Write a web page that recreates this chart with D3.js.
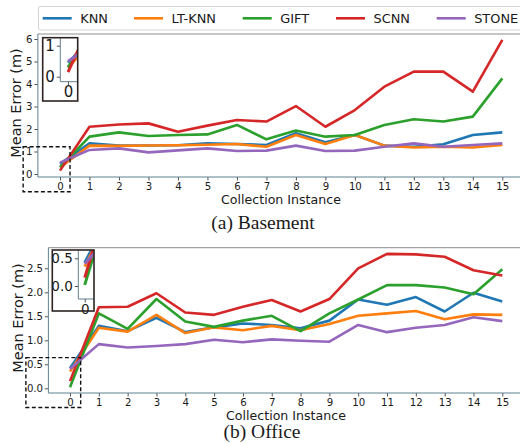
<!DOCTYPE html>
<html>
<head>
<meta charset="utf-8">
<script src="https://cdn.jsdelivr.net/npm/d3@7"></script>
<style>
body { margin: 0; background: #fff; }
text { font-family: "DejaVu Sans", sans-serif; fill: #1a1a1a; }
</style>
</head>
<body>
<script>
// collection instances on the x axis
var instances = [0, 1, 2, 3, 4, 5, 6, 7, 8, 9, 10, 11, 12, 13, 14, 15];
var methods = ["KNN", "LT-KNN", "GIFT", "SCNN", "STONE"];
var colors = ["#1f77b4", "#ff7f0e", "#2ca02c", "#d62728", "#9467bd"];

// (a) Basement, mean error in metres
var basementKNN   = [0.45, 1.36, 1.26, 1.27, 1.28, 1.36, 1.33, 1.29, 1.81, 1.41, 1.73, 1.26, 1.21, 1.32, 1.73, 1.85];
var basementLTKNN = [0.30, 1.26, 1.25, 1.27, 1.28, 1.30, 1.33, 1.21, 1.73, 1.33, 1.73, 1.26, 1.18, 1.21, 1.18, 1.29];
var basementGIFT  = [0.30, 1.66, 1.85, 1.69, 1.73, 1.76, 2.18, 1.54, 1.93, 1.66, 1.73, 2.18, 2.43, 2.33, 2.55, 4.25];
var basementSCNN  = [0.15, 2.10, 2.20, 2.25, 1.88, 2.15, 2.40, 2.33, 3.02, 2.10, 2.84, 3.88, 4.55, 4.55, 3.66, 5.96];
var basementSTONE = [0.50, 1.07, 1.14, 0.96, 1.05, 1.14, 1.02, 1.04, 1.26, 1.02, 1.04, 1.21, 1.36, 1.21, 1.29, 1.36];

// (b) Office, mean error in metres
var officeKNN   = [0.42, 1.30, 1.19, 1.47, 1.17, 1.27, 1.35, 1.32, 1.25, 1.41, 1.85, 1.74, 1.90, 1.60, 1.99, 1.81];
var officeLTKNN = [0.35, 1.26, 1.18, 1.53, 1.15, 1.27, 1.21, 1.30, 1.21, 1.34, 1.51, 1.56, 1.61, 1.44, 1.54, 1.53];
var officeGIFT  = [0.02, 1.56, 1.24, 1.86, 1.39, 1.28, 1.41, 1.51, 1.19, 1.56, 1.85, 2.15, 2.15, 2.10, 1.96, 2.48];
var officeSCNN  = [0.15, 1.69, 1.70, 1.98, 1.58, 1.53, 1.70, 1.84, 1.60, 1.86, 2.50, 2.80, 2.79, 2.74, 2.46, 2.35];
var officeSTONE = [0.40, 0.92, 0.85, 0.88, 0.92, 1.01, 0.96, 1.02, 0.99, 0.97, 1.32, 1.17, 1.26, 1.32, 1.48, 1.40];

var basementTicks = [0, 1, 2, 3, 4, 5, 6];
var officeTicks = [0.0, 0.5, 1.0, 1.5, 2.0, 2.5];

var W = 520, H = 444;
var svg = d3.select("body").append("svg")
  .attr("width", W)
  .attr("height", H);

// legend on top
var legend = svg.append("g");
legend.append("rect")
  .attr("x", 38.5).attr("y", 6.5)
  .attr("width", 500).attr("height", 23.5)
  .attr("rx", 2)
  .style("fill", "#fff")
  .style("stroke", "#d4d4d4");
var legendX = [42.7, 134, 242.7, 336, 436.7];
methods.forEach(function (m, i) {
  legend.append("line")
    .attr("x1", legendX[i]).attr("x2", legendX[i] + 29)
    .attr("y1", 18.3).attr("y2", 18.3)
    .style("stroke", colors[i])
    .style("stroke-width", 2.6);
  legend.append("text")
    .attr("x", legendX[i] + 37.5)
    .attr("y", 23.2)
    .style("font-size", "12.9px")
    .text(m);
});

function drawPanel(p) {
  var g = svg.append("g");
  var x = d3.scaleLinear().domain([0, 15]).range(p.xRange);
  var y = d3.scaleLinear().domain(p.yDom).range(p.yRange);
  var left = x(-0.75), right = W + 2;

  // ticks
  var yAxis = g.append("g")
    .attr("transform", "translate(" + left + ",0)")
    .call(d3.axisLeft(y).tickValues(p.yTicks).tickFormat(p.fmt).tickSize(3.5).tickPadding(1.8));
  var xAxis = g.append("g")
    .attr("transform", "translate(0," + p.bottom + ")")
    .call(d3.axisBottom(x).tickValues(instances).tickFormat(d3.format("d")).tickSize(3.5).tickPadding(2.5));
  [xAxis, yAxis].forEach(function (a) {
    a.select(".domain").remove();
    a.selectAll(".tick line").style("stroke", "#555");
    a.selectAll(".tick text").style("font-size", "10.2px").style("font-family", "DejaVu Sans").style("fill", "#1a1a1a");
  });

  // spines
  g.append("line").attr("x1", left).attr("x2", right).attr("y1", p.top).attr("y2", p.top)
    .style("stroke", "#8c8c8c").style("stroke-width", 1);
  g.append("line").attr("x1", left).attr("x2", left).attr("y1", p.top).attr("y2", p.bottom)
    .style("stroke", "#5f8190").style("stroke-width", 1);
  g.append("line").attr("x1", left).attr("x2", right).attr("y1", p.bottom).attr("y2", p.bottom)
    .style("stroke", "#5f8190").style("stroke-width", 1);

  var line = d3.line()
    .x(function (d, i) { return x(instances[i]); })
    .y(function (d) { return y(d); });

  g.selectAll(".series")
    .data(p.series)
    .enter()
    .append("path")
    .attr("d", function (d) { return line(d); })
    .style("fill", "none")
    .style("stroke", function (d, i) { return colors[i]; })
    .style("stroke-width", 2.6)
    .style("stroke-linejoin", "round");

  // dashed zoom box
  g.append("rect")
    .attr("x", x(p.box[0])).attr("y", y(p.box[3]))
    .attr("width", x(p.box[1]) - x(p.box[0]))
    .attr("height", y(p.box[2]) - y(p.box[3]))
    .style("fill", "none")
    .style("stroke", "#111")
    .style("stroke-width", 1.4)
    .style("stroke-dasharray", "4,2.5");

  // inset
  var ins = p.inset;
  var ix = d3.scaleLinear().domain(ins.xDom).range([ins.axL, ins.R]);
  var iy = d3.scaleLinear().domain(ins.yDom).range(ins.yRange);
  var clipId = "clip" + p.id;
  g.append("clipPath").attr("id", clipId)
    .append("rect")
    .attr("x", ins.axL).attr("y", ins.T)
    .attr("width", ins.R - ins.axL).attr("height", ins.axB - ins.T);
  g.append("rect")
    .attr("x", ins.L).attr("y", ins.T)
    .attr("width", ins.R - ins.L).attr("height", ins.B - ins.T)
    .style("fill", "#fff");
  var iline = d3.line()
    .x(function (d, i) { return ix(instances[i]); })
    .y(function (d) { return iy(d); });
  g.append("g").attr("clip-path", "url(#" + clipId + ")")
    .selectAll("path")
    .data(p.series)
    .enter()
    .append("path")
    .attr("d", function (d) { return iline(d.slice(0, 2)); })
    .style("fill", "none")
    .style("stroke", function (d, i) { return colors[i]; })
    .style("stroke-width", 3);
  g.append("line").attr("x1", ins.axL).attr("x2", ins.axL).attr("y1", ins.T).attr("y2", ins.axB)
    .style("stroke", "#5f8190");
  g.append("line").attr("x1", ins.axL).attr("x2", ins.R).attr("y1", ins.axB).attr("y2", ins.axB)
    .style("stroke", "#5f8190");
  var iyAxis = g.append("g")
    .attr("transform", "translate(" + ins.axL + ",0)")
    .call(d3.axisLeft(iy).tickValues(ins.yTicks).tickFormat(ins.fmt).tickSize(3.5).tickPadding(2));
  var ixAxis = g.append("g")
    .attr("transform", "translate(0," + ins.axB + ")")
    .call(d3.axisBottom(ix).tickValues([0]).tickFormat(d3.format("d")).tickSize(3.5).tickPadding(1.5));
  [iyAxis, ixAxis].forEach(function (a) {
    a.select(".domain").remove();
    a.selectAll(".tick line").style("stroke", "#555");
    a.selectAll(".tick text").style("font-size", ins.font + "px").style("font-family", "DejaVu Sans").style("fill", "#1a1a1a");
  });
  g.append("rect")
    .attr("x", ins.L).attr("y", ins.T)
    .attr("width", ins.R - ins.L).attr("height", ins.B - ins.T)
    .style("fill", "none")
    .style("stroke", "#2e2222")
    .style("stroke-width", 1.6);

  // axis titles
  g.append("text")
    .attr("transform", "translate(" + p.yLabel[0] + "," + p.yLabel[1] + ") rotate(-90)")
    .attr("text-anchor", "middle")
    .attr("dy", "0.36em")
    .style("font-size", "14.5px")
    .text("Mean Error (m)");
  g.append("text")
    .attr("x", p.xLabel[0]).attr("y", p.xLabel[1])
    .attr("text-anchor", "middle")
    .style("font-size", "12.6px")
    .text("Collection Instance");
  g.append("text")
    .attr("x", p.caption[0]).attr("y", p.caption[1])
    .attr("text-anchor", "middle")
    .style("font-family", "'Liberation Serif', serif")
    .style("font-size", "19.5px")
    .text(p.caption[2]);
}

drawPanel({
  id: "a",
  xRange: [60, 502.3],
  yDom: [0, 6], yRange: [174, 39],
  top: 34, bottom: 177,
  yTicks: basementTicks, fmt: d3.format("d"),
  series: [basementKNN, basementLTKNN, basementGIFT, basementSCNN, basementSTONE],
  box: [-1.25, 0.34, -0.79, 1.21],
  inset: {
    L: 42.7, R: 77.7, T: 37.7, B: 101, axL: 60.3, axB: 81.7,
    xDom: [-0.28, 0.35], yDom: [0, 1], yRange: [76.7, 45.7],
    yTicks: [0, 1], fmt: d3.format("d"), font: 15
  },
  yLabel: [16, 103],
  xLabel: [281, 204],
  caption: [263, 229, "(a) Basement"]
});

drawPanel({
  id: "b",
  xRange: [70, 502.3],
  yDom: [0, 2.5], yRange: [388.3, 268.3],
  top: 247.7, bottom: 393,
  yTicks: officeTicks, fmt: d3.format(".1f"),
  series: [officeKNN, officeLTKNN, officeGIFT, officeSCNN, officeSTONE],
  box: [-1.53, 0.37, -0.4, 0.64],
  inset: {
    L: 52.3, R: 94, T: 250, B: 311, axL: 78.3, axB: 299,
    xDom: [-0.25, 0.36], yDom: [0, 0.5], yRange: [286, 258.3],
    yTicks: [0.0, 0.5], fmt: d3.format(".1f"), font: 13.5
  },
  yLabel: [17.5, 318],
  xLabel: [286, 420],
  caption: [262, 438, "(b) Office"]
});
</script>
</body>
</html>
